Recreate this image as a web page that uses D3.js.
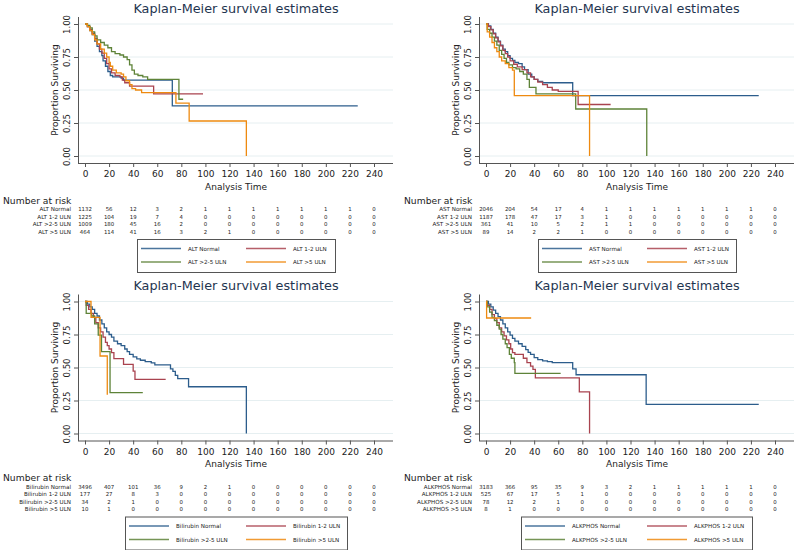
<!DOCTYPE html>
<html><head><meta charset="utf-8">
<script src="https://cdn.jsdelivr.net/npm/d3@7"></script>
<style>body{margin:0;background:#fff}svg{display:block}text{font-family:"DejaVu Sans",Verdana,sans-serif}</style>
</head><body><svg id="c" width="795" height="550"></svg>
<script>
// ---------- DATA ----------
const timeTicks = [0,20,40,60,80,100,120,140,160,180,200,220,240];
const survTicks = [0,0.25,0.5,0.75,1];
const survTickLabels = ["0.00","0.25","0.50","0.75","1.00"];
const chartTitle = "Kaplan-Meier survival estimates";

const altLabels = ["ALT Normal","ALT 1-2 ULN","ALT >2-5 ULN","ALT >5 ULN"];
const astLabels = ["AST Normal","AST 1-2 ULN","AST >2-5 ULN","AST >5 ULN"];
const bilLabels = ["Bilirubin Normal","Bilirubin 1-2 ULN","Bilirubin >2-5 ULN","Bilirubin >5 ULN"];
const alkLabels = ["ALKPHOS Normal","ALKPHOS 1-2 ULN","ALKPHOS >2-5 ULN","ALKPHOS >5 ULN"];

// KM step points [time, survival from that time on]
const altNormal = [[0,1],[2,0.98],[4,0.95],[6,0.92],[8,0.87],[10,0.83],[12,0.79],[14,0.76],[15,0.72],[17,0.68],[19,0.64],[21,0.61],[23,0.60],[30,0.59],[32,0.575],[72.5,0.38],[226.5,0.38]];
const alt12 = [[0,1],[2,0.98],[4,0.96],[6,0.93],[8,0.89],[10,0.85],[12,0.81],[14,0.78],[16,0.74],[18,0.70],[20,0.66],[22,0.63],[25,0.61],[29,0.60],[31,0.575],[33,0.555],[37,0.53],[57,0.47],[98,0.47]];
const alt25 = [[0,1],[2,0.99],[4,0.97],[6,0.94],[8,0.91],[10,0.88],[13,0.86],[16,0.84],[19,0.82],[22,0.79],[25,0.775],[29,0.765],[32,0.75],[35,0.73],[37,0.69],[39,0.65],[41,0.62],[44,0.61],[48,0.60],[52,0.58],[78,0.43],[81.5,0.43]];
const alt5 = [[0,1],[2,0.98],[4,0.95],[6,0.92],[8,0.88],[10,0.85],[13,0.81],[16,0.78],[18,0.75],[20,0.71],[21,0.68],[23,0.65],[26,0.63],[30,0.62],[32,0.60],[34,0.57],[37,0.54],[39,0.51],[42,0.50],[47,0.48],[75.5,0.40],[86.5,0.265],[134,0]];

const astNormal = [[0,1],[2,0.985],[4,0.96],[6,0.93],[8,0.90],[10,0.87],[12,0.84],[14,0.81],[16,0.79],[18,0.76],[20,0.74],[22,0.725],[24,0.71],[27,0.70],[30,0.675],[32,0.655],[35,0.62],[38,0.60],[40,0.58],[43,0.565],[47,0.555],[72,0.457],[226.5,0.457]];
const ast12 = [[0,1],[2,0.98],[4,0.955],[6,0.925],[8,0.895],[10,0.865],[12,0.835],[14,0.80],[16,0.775],[18,0.75],[20,0.72],[23,0.695],[26,0.675],[30,0.655],[34,0.63],[37,0.60],[40,0.58],[43,0.56],[47,0.54],[51,0.52],[55,0.50],[60,0.49],[76.5,0.39],[103.5,0.39]];
const ast25 = [[0,1],[1,0.96],[3,0.93],[5,0.90],[7,0.87],[9,0.84],[11,0.80],[13,0.77],[15,0.74],[17,0.71],[19,0.69],[22,0.67],[25,0.66],[28,0.64],[31,0.62],[34,0.58],[36,0.52],[41.5,0.47],[74.5,0.356],[133.5,0]];
const ast5 = [[0,1],[1,0.94],[3,0.90],[5,0.86],[7,0.82],[9,0.79],[11,0.75],[13,0.72],[16,0.70],[19,0.67],[22,0.65],[23.5,0.457],[86,0]];

const bilNormal = [[0,1],[2,0.98],[4,0.96],[6,0.94],[8,0.91],[10,0.89],[12,0.86],[14,0.83],[16,0.80],[18,0.77],[20,0.75],[22,0.73],[24,0.70],[27,0.68],[30,0.665],[33,0.64],[35,0.62],[37,0.60],[40,0.58],[43,0.565],[46,0.555],[50,0.545],[55,0.535],[58,0.52],[71,0.49],[73,0.47],[75,0.44],[77,0.415],[86,0.354],[134,0]];
const bil12 = [[0,1],[1,0.97],[3,0.94],[5,0.91],[7,0.88],[9,0.84],[11,0.80],[13,0.77],[15,0.73],[17,0.69],[18.5,0.665],[20,0.64],[22,0.613],[24,0.567],[32,0.524],[40,0.473],[41.5,0.41],[67,0.41]];
const bil25 = [[0,1],[1,0.91],[5.5,0.89],[8,0.83],[11,0.745],[13.7,0.62],[20.8,0.31],[48,0.31]];
const bil5 = [[0,1],[5,0.88],[12.5,0.587],[18.5,0.293]];

const alkNormal = [[0,1],[2,0.98],[4,0.96],[6,0.935],[8,0.91],[10,0.885],[12,0.86],[14,0.83],[16,0.80],[18,0.77],[20,0.745],[22,0.72],[24,0.70],[27,0.68],[30,0.66],[33,0.635],[35,0.615],[37,0.60],[40,0.575],[43,0.56],[47,0.55],[51,0.545],[55,0.537],[72,0.49],[74.8,0.445],[133,0.22],[226.5,0.22]];
const alk12 = [[0,1],[1,0.97],[3,0.94],[5,0.90],[7,0.87],[9,0.84],[11,0.80],[13,0.77],[15,0.74],[17,0.71],[19,0.68],[20.5,0.64],[22,0.613],[24,0.60],[31,0.57],[34,0.537],[37,0.51],[39,0.486],[41,0.422],[77.5,0.316],[86,0]];
const alk25 = [[0,1],[1,0.96],[3,0.92],[5,0.88],[7,0.855],[9,0.82],[11,0.79],[12.5,0.75],[14,0.715],[16,0.68],[17.5,0.65],[19.4,0.60],[21,0.57],[23.5,0.537],[24,0.455],[62,0.455]];
const alk5 = [[0,1],[0.5,0.875],[37.5,0.875]];

// Number at risk
const altRisk = [[1132,56,12,3,2,1,1,1,1,1,1,1,0],[1225,104,19,7,4,0,0,0,0,0,0,0,0],[1009,180,45,16,2,0,0,0,0,0,0,0,0],[464,114,41,16,3,2,1,0,0,0,0,0,0]];
const astRisk = [[2046,204,54,17,4,1,1,1,1,1,1,1,0],[1187,178,47,17,3,1,0,0,0,0,0,0,0],[361,41,10,5,2,1,1,0,0,0,0,0,0],[89,14,2,2,1,0,0,0,0,0,0,0,0]];
const bilRisk = [[3496,407,101,36,9,2,1,0,0,0,0,0,0],[177,27,8,3,0,0,0,0,0,0,0,0,0],[34,2,1,0,0,0,0,0,0,0,0,0,0],[10,1,0,0,0,0,0,0,0,0,0,0,0]];
const alkRisk = [[3183,366,95,35,9,3,2,1,1,1,1,1,0],[525,67,17,5,1,0,0,0,0,0,0,0,0],[78,12,2,1,0,0,0,0,0,0,0,0,0],[8,1,0,0,0,0,0,0,0,0,0,0,0]];

// ---------- STYLE / LAYOUT ----------
const colors = ["#2c5d8c","#a9434f","#5e8338","#ee8a10"];
const panels = [
  {labels:altLabels, curves:[altNormal,alt12,alt25,alt5], risk:altRisk, ox:0, oy:0, bx:137, bw:198},
  {labels:astLabels, curves:[astNormal,ast12,ast25,ast5], risk:astRisk, ox:401, oy:0, bx:137, bw:198},
  {labels:bilLabels, curves:[bilNormal,bil12,bil25,bil5], risk:bilRisk, ox:0, oy:277.5, bx:125, bw:222},
  {labels:alkLabels, curves:[alkNormal,alk12,alk25,alk5], risk:alkRisk, ox:401, oy:277.5, bx:120, bw:231}
];

const svg = d3.select("#c");
const textCol = "#222";

panels.forEach(p => {
  const g = svg.append("g").attr("transform", `translate(${p.ox},${p.oy})`);
  const x = d3.scaleLinear().domain([0,240]).range([85,374]);
  const y = d3.scaleLinear().domain([0,1]).range([156,24]);

  // title
  g.append("text").attr("x",236).attr("y",12.5).attr("text-anchor","middle")
    .style("font-size","12.8px").style("fill","#1f3550").text(chartTitle);

  // gridlines
  g.selectAll("line.grid").data(survTicks).join("line").attr("class","grid")
    .attr("x1",78).attr("x2",393).attr("y1",d=>y(d)).attr("y2",d=>y(d))
    .attr("stroke","#e6eff1").attr("stroke-width",1);

  // axes
  const xa = g.append("g").attr("transform","translate(0,163)")
    .call(d3.axisBottom(x).tickValues(timeTicks).tickSize(4).tickSizeOuter(0));
  xa.select(".domain").remove();
  xa.selectAll("line").attr("stroke","#555");
  xa.selectAll("text").attr("y",8).attr("dy","0.71em").style("font-size","9px").style("fill",textCol).style("font-family","DejaVu Sans");
  g.append("line").attr("x1",78).attr("x2",393).attr("y1",163.5).attr("y2",163.5).attr("stroke","#555");

  const ya = g.append("g").attr("transform","translate(78,0)")
    .call(d3.axisLeft(y).tickValues(survTicks).tickFormat((d,i)=>survTickLabels[i]).tickSize(4).tickSizeOuter(0));
  ya.select(".domain").remove();
  ya.selectAll("line").attr("stroke","#555");
  ya.selectAll("text").attr("transform","rotate(-90)").attr("x",0).attr("y",-8.5).attr("dy",0)
    .style("text-anchor","middle").style("font-size","8.5px").style("fill",textCol).style("font-family","DejaVu Sans");
  g.append("line").attr("x1",78.5).attr("x2",78.5).attr("y1",17).attr("y2",163.5).attr("stroke","#555");

  // axis titles
  g.append("text").attr("transform","translate(57.5,90) rotate(-90)").attr("text-anchor","middle")
    .style("font-size","9px").style("fill",textCol).text("Proportion Surviving");
  g.append("text").attr("x",236).attr("y",189.5).attr("text-anchor","middle")
    .style("font-size","9px").style("fill",textCol).text("Analysis Time");

  // curves
  const line = d3.line().x(d=>x(d[0])).y(d=>y(d[1])).curve(d3.curveStepAfter);
  p.curves.forEach((c,i)=>{
    g.append("path").attr("d",line(c)).attr("fill","none").attr("stroke",colors[i])
      .attr("stroke-width",1.3);
  });

  // number at risk
  g.append("text").attr("x",3).attr("y",203.5).style("font-size","9.2px").style("fill",textCol).text("Number at risk");
  const rowY = [211,218.6,226.2,233.8];
  p.risk.forEach((row,ri)=>{
    g.append("text").attr("x",71).attr("y",rowY[ri]).attr("text-anchor","end")
      .style("font-size","5.6px").style("fill",textCol).text(p.labels[ri]);
    g.selectAll(null).data(row).join("text")
      .attr("x",(d,j)=>x(timeTicks[j])).attr("y",rowY[ri]).attr("text-anchor","middle")
      .style("font-size","5.4px").style("fill",textCol).text(d=>d);
  });

  // legend
  g.append("rect").attr("x",p.bx+0.5).attr("y",239.5).attr("width",p.bw).attr("height",33)
    .attr("fill","#fff").attr("stroke","#555").attr("stroke-width",1);
  const legPos = [[p.bx+4,248.5],[246,248.5],[p.bx+4,262],[246,262]];
  p.labels.forEach((lab,i)=>{
    const [lx,ly] = legPos[i];
    g.append("line").attr("x1",lx).attr("x2",lx+40).attr("y1",ly).attr("y2",ly)
      .attr("stroke",colors[i]).attr("stroke-width",1.4).attr("stroke-opacity",0.85);
    g.append("text").attr("x",lx+47).attr("y",ly+2).style("font-size","5.6px").style("fill",textCol).text(lab);
  });
});
</script></body></html>
